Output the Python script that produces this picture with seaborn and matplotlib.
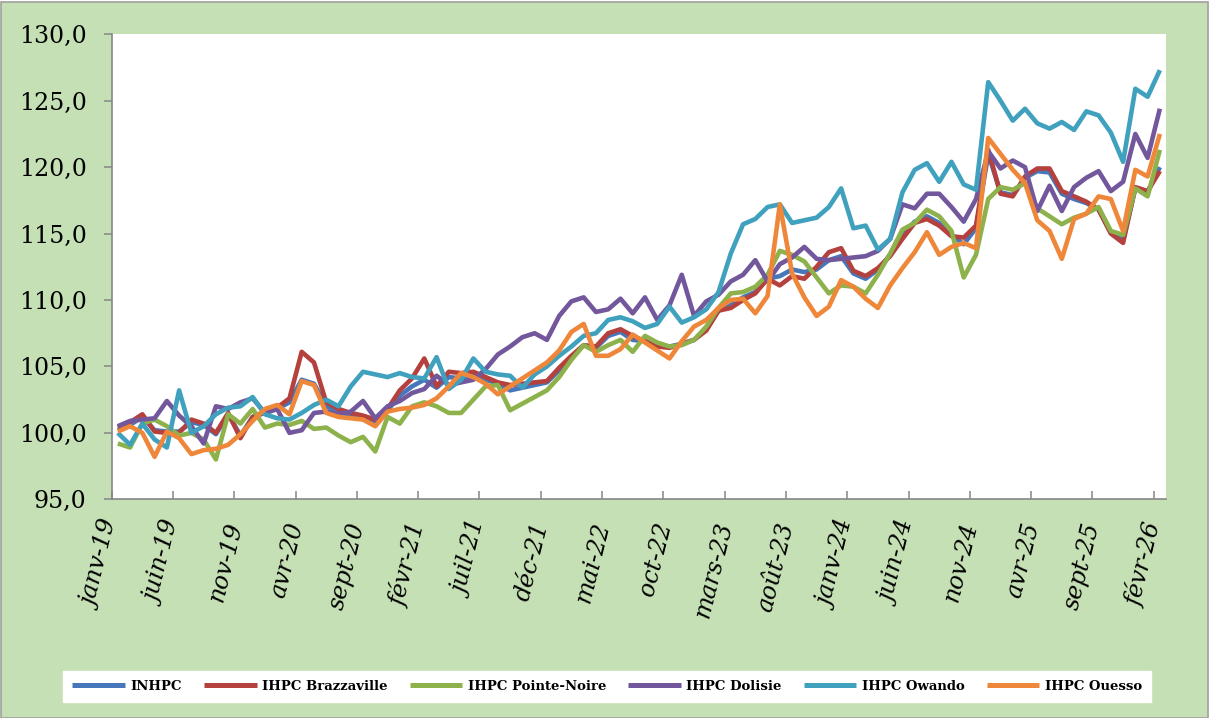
import numpy as np
import pandas as pd
import seaborn as sns
import matplotlib.pyplot as plt
from matplotlib.patches import Rectangle

# Indices mensuels, janv-19 -> févr-26 (une ligne = une année)
inhpc = [
    100.2, 100.6, 101.2, 100.2, 100.1, 100.1, 100.8, 100.6, 99.9, 101.4, 99.8, 101.2,
    101.5, 101.8, 102.3, 104.0, 103.7, 102.0, 101.6, 101.3, 101.1, 100.8, 101.7, 102.8,
    103.5, 104.0, 103.4, 104.2, 104.1, 104.3, 104.0, 103.7, 103.2, 103.4, 103.6, 103.8,
    104.7, 105.7, 106.6, 106.4, 107.3, 107.6, 107.0, 106.9, 106.6, 106.5, 106.7, 107.0,
    107.8, 109.2, 109.6, 110.2, 110.6, 111.6, 111.8, 112.3, 112.1, 112.3, 113.0, 113.3,
    112.0, 111.6, 112.3, 113.4, 114.9, 115.9, 116.3, 115.8, 114.9, 114.2, 115.4, 121.0,
    118.1, 117.9, 119.2, 119.7, 119.6, 118.0, 117.6, 117.3, 116.8, 115.1, 114.5, 118.4,
    118.1, 120.0,
]
brazzaville = [
    100.4, 100.8, 101.4, 100.1, 100.0, 100.0, 101.0, 100.7, 100.0, 101.5, 99.6, 101.2,
    101.6, 101.9, 102.6, 106.1, 105.3, 102.3, 101.8, 101.5, 101.3, 101.0, 101.8, 103.2,
    104.1, 105.6, 103.5, 104.6, 104.5, 104.6, 104.2, 103.8, 103.6, 103.7, 103.8, 103.9,
    104.9, 105.8, 106.6, 106.5, 107.5, 107.8, 107.3, 106.9, 106.5, 106.4, 106.7, 107.0,
    107.7, 109.2, 109.4, 110.0, 110.5, 111.6, 111.1, 111.8, 111.6, 112.5, 113.6, 113.9,
    112.2, 111.8, 112.4, 113.3, 114.6, 115.8, 116.1, 115.6, 114.8, 114.7, 115.6, 121.3,
    118.0, 117.8, 119.3, 119.9, 119.9, 118.2, 117.8, 117.4, 116.8, 115.0, 114.3, 118.5,
    118.2, 119.7,
]
pointe_noire = [
    99.2, 98.9, 100.7, 101.0, 100.5, 99.8, 100.0, 99.5, 98.0, 101.4, 100.7, 101.8,
    100.4, 100.7, 100.6, 100.9, 100.3, 100.4, 99.8, 99.3, 99.7, 98.6, 101.2, 100.7,
    102.0, 102.3, 102.0, 101.5, 101.5, 102.5, 103.5, 103.6, 101.7, 102.2, 102.7, 103.2,
    104.2, 105.5, 106.6, 106.1, 106.6, 107.0, 106.1, 107.3, 106.8, 106.5, 106.6, 107.0,
    108.0, 109.4, 110.5, 110.6, 111.0, 111.9, 113.7, 113.4, 112.9, 111.7, 110.5, 111.1,
    111.0, 110.5, 111.9, 113.5, 115.3, 115.8, 116.8, 116.3, 115.2, 111.7, 113.4, 117.6,
    118.5, 118.3, 118.8, 116.9, 116.3, 115.7, 116.2, 116.5, 117.0, 115.2, 114.9, 118.4,
    117.8, 121.3,
]
dolisie = [
    100.5, 100.9, 101.0, 101.1, 102.4, 101.3, 100.5, 99.2, 102.0, 101.8, 102.3, 102.6,
    101.5, 101.8, 100.0, 100.2, 101.5, 101.6, 101.4, 101.6, 102.4, 101.1, 102.0, 102.4,
    103.0, 103.3, 104.3, 103.6, 103.8, 104.0, 104.8, 105.9, 106.5, 107.2, 107.5, 107.0,
    108.8, 109.9, 110.2, 109.1, 109.3, 110.1, 109.0, 110.2, 108.5, 109.6, 111.9, 108.8,
    109.9, 110.4, 111.4, 111.9, 113.0, 111.4, 112.7, 113.2, 114.0, 113.1, 113.0, 113.1,
    113.2, 113.3, 113.7, 114.6, 117.2, 116.9, 118.0, 118.0, 117.0, 115.9, 117.6, 121.2,
    119.9, 120.5, 120.0, 116.7, 118.6, 116.7, 118.5, 119.2, 119.7, 118.2, 118.9, 122.5,
    120.7, 124.4,
]
owando = [
    100.0, 99.1, 100.7, 99.5, 98.9, 103.2, 100.0, 100.5, 101.4, 101.9, 102.0, 102.7,
    101.4, 101.1, 101.0, 101.5, 102.1, 102.5, 102.0, 103.5, 104.6, 104.4, 104.2, 104.5,
    104.2, 104.1, 105.7, 103.3, 104.0, 105.6, 104.6, 104.4, 104.3, 103.4, 104.4, 105.0,
    105.8, 106.5, 107.3, 107.5, 108.5, 108.7, 108.4, 107.9, 108.2, 109.5, 108.3, 108.7,
    109.3, 110.6, 113.5, 115.7, 116.1, 117.0, 117.2, 115.8, 116.0, 116.2, 117.0, 118.4,
    115.4, 115.6, 113.8, 114.6, 118.1, 119.8, 120.3, 118.9, 120.4, 118.7, 118.3, 126.4,
    125.0, 123.5, 124.4, 123.3, 122.9, 123.4, 122.8, 124.2, 123.9, 122.6, 120.4, 125.9,
    125.3, 127.3,
]
ouesso = [
    100.1, 100.5, 100.0, 98.2, 100.1, 99.6, 98.4, 98.7, 98.8, 99.1, 99.9, 100.9,
    101.8, 102.1, 101.4, 103.9, 103.6, 101.5, 101.2, 101.1, 101.0, 100.5, 101.6, 101.8,
    101.9, 102.1, 102.6, 103.5, 104.5, 104.2, 103.7, 102.9, 103.5, 104.1, 104.7, 105.3,
    106.2, 107.6, 108.2, 105.8, 105.8, 106.3, 107.4, 106.8, 106.2, 105.6, 106.9, 108.0,
    108.5, 109.4, 110.0, 110.1, 109.0, 110.3, 117.2, 112.0, 110.2, 108.8, 109.5, 111.5,
    111.0, 110.1, 109.4, 111.1, 112.4, 113.6, 115.1, 113.4, 114.0, 114.3, 113.9, 122.2,
    121.0, 119.8, 118.8, 116.0, 115.2, 113.1, 116.1, 116.5, 117.8, 117.6, 115.2, 119.8,
    119.3, 122.5,
]

tick_labels = ["janv-19", "juin-19", "nov-19", "avr-20", "sept-20", "févr-21",
               "juil-21", "déc-21", "mai-22", "oct-22", "mars-23", "août-23",
               "janv-24", "juin-24", "nov-24", "avr-25", "sept-25", "févr-26"]

series = {
    "INHPC": inhpc,
    "IHPC Brazzaville": brazzaville,
    "IHPC Pointe-Noire": pointe_noire,
    "IHPC Dolisie": dolisie,
    "IHPC Owando": owando,
    "IHPC Ouesso": ouesso,
}
couleurs = {
    "INHPC": "#4677BB",
    "IHPC Brazzaville": "#B5413E",
    "IHPC Pointe-Noire": "#8DB24C",
    "IHPC Dolisie": "#73579C",
    "IHPC Owando": "#3FA1BE",
    "IHPC Ouesso": "#EE873A",
}

df = pd.DataFrame(series)
df["mois"] = np.arange(len(df))
long_df = df.melt(id_vars="mois", var_name="serie", value_name="indice")

plt.rcParams["font.family"] = "DejaVu Serif"

W, H = 1212, 718
fig = plt.figure(figsize=(W / 100, H / 100), dpi=100)
fig.patch.set_facecolor("white")
fig.add_artist(Rectangle((0.5 / W, 0.5 / H), 1207 / W, 716 / H, transform=fig.transFigure,
                         facecolor="#C5E0B4", edgecolor="#A0A0A0", linewidth=1.2, zorder=-10))

ax = fig.add_axes([111.7 / W, 1 - 499.3 / H, (1166 - 111.7) / W, (499.3 - 34.3) / H])
ax.set_facecolor("white")

sns.lineplot(data=long_df, x="mois", y="indice", hue="serie", hue_order=list(series),
             palette=couleurs, linewidth=3.3, errorbar=None, ax=ax,
             solid_joinstyle="round", solid_capstyle="butt")

ax.set_xlim(-0.5, len(df) - 0.5)
ax.set_ylim(95, 130)
ax.set_xlabel("")
ax.set_ylabel("")

yt = np.arange(95, 131, 5)
ax.set_yticks(yt)
ax.set_yticklabels([f"{v:.1f}".replace(".", ",") for v in yt], fontsize=17)
ax.tick_params(axis="y", direction="out", length=6, width=1.1, color="#868686", pad=12)

# tick marks on category boundaries, labels on the categories
ax.set_xticks(np.arange(-0.5, len(df), 5))
ax.set_xticklabels([])
ax.tick_params(axis="x", which="major", direction="in", length=6, width=1.1, color="#868686")
ax.set_xticks(np.arange(0, len(df), 5) + 0.5, minor=True)
ax.set_xticklabels(tick_labels, minor=True, rotation=76, ha="right", va="top",
                   fontsize=17, fontstyle="italic")
ax.tick_params(axis="x", which="minor", length=0, pad=15)

for s in ["top", "right"]:
    ax.spines[s].set_visible(False)
for s in ["left", "bottom"]:
    ax.spines[s].set_color("#868686")
    ax.spines[s].set_linewidth(1.2)

handles, labels = ax.get_legend_handles_labels()
ax.get_legend().remove()
for h in handles:
    h.set_linewidth(3.6)
fig.legend(handles, labels, loc="lower left",
           bbox_to_anchor=(63 / W, 1 - 702 / H, 1088 / W, 33 / H), mode="expand",
           ncol=6, frameon=True, fancybox=False, edgecolor="white", facecolor="white",
           framealpha=1, prop=dict(family="DejaVu Serif", weight="bold", size=9.5),
           handlelength=4.0, handletextpad=0.4, borderpad=0.7, borderaxespad=0)

fig.savefig("out.png", dpi=100, facecolor=fig.get_facecolor())
